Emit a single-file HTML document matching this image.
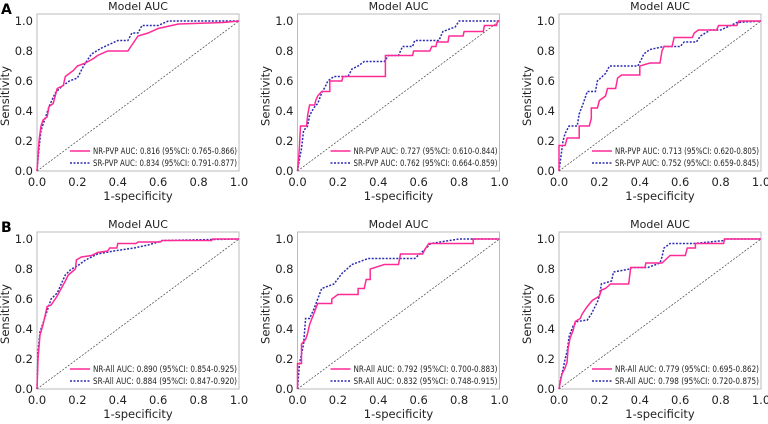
<!DOCTYPE html>
<html><head><meta charset="utf-8"><style>
html,body{margin:0;padding:0;background:#fff;}
svg{display:block;font-family:"DejaVu Sans","Liberation Sans",sans-serif;}
</style></head><body>
<svg id="chart" width="768" height="424" viewBox="0 0 768 424"></svg>
<script>
const titles=["Model AUC","Model AUC","Model AUC","Model AUC","Model AUC","Model AUC"];
const nrLabels=["NR-PVP AUC: 0.816 (95%CI: 0.765-0.866)","NR-PVP AUC: 0.727 (95%CI: 0.610-0.844)","NR-PVP AUC: 0.713 (95%CI: 0.620-0.805)","NR-All AUC: 0.890 (95%CI: 0.854-0.925)","NR-All AUC: 0.792 (95%CI: 0.700-0.883)","NR-All AUC: 0.779 (95%CI: 0.695-0.862)"];
const srLabels=["SR-PVP AUC: 0.834 (95%CI: 0.791-0.877)","SR-PVP AUC: 0.762 (95%CI: 0.664-0.859)","SR-PVP AUC: 0.752 (95%CI: 0.659-0.845)","SR-All AUC: 0.884 (95%CI: 0.847-0.920)","SR-All AUC: 0.832 (95%CI: 0.748-0.915)","SR-All AUC: 0.798 (95%CI: 0.720-0.875)"];
const tickLabels=["0.0","0.2","0.4","0.6","0.8","1.0"];
const tickValues=[0,0.2,0.4,0.6,0.8,1.0];
const nrCurves=[
[[0,0],[0.01,0.2],[0.02,0.3],[0.03,0.34],[0.05,0.36],[0.06,0.43],[0.08,0.45],[0.09,0.5],[0.1,0.55],[0.13,0.57],[0.14,0.63],[0.16,0.65],[0.18,0.67],[0.2,0.7],[0.24,0.72],[0.28,0.75],[0.3,0.77],[0.35,0.8],[0.45,0.8],[0.47,0.84],[0.5,0.9],[0.55,0.92],[0.6,0.95],[0.7,0.98],[0.92,0.99],[1,1]],
[[0,0],[0.005,0.07],[0.01,0.17],[0.015,0.3],[0.045,0.3],[0.05,0.37],[0.06,0.44],[0.085,0.44],[0.09,0.47],[0.1,0.5],[0.12,0.53],[0.16,0.53],[0.16,0.6],[0.22,0.6],[0.225,0.63],[0.435,0.63],[0.435,0.77],[0.57,0.77],[0.575,0.8],[0.655,0.8],[0.665,0.83],[0.685,0.83],[0.69,0.86],[0.745,0.86],[0.75,0.9],[0.82,0.9],[0.825,0.93],[0.92,0.93],[0.925,0.97],[0.985,0.97],[0.99,1],[1,1]],
[[0,0],[0,0.17],[0.03,0.17],[0.04,0.22],[0.1,0.22],[0.1,0.3],[0.15,0.3],[0.16,0.35],[0.16,0.42],[0.19,0.42],[0.2,0.47],[0.23,0.5],[0.24,0.55],[0.28,0.55],[0.29,0.62],[0.31,0.64],[0.4,0.64],[0.4,0.7],[0.45,0.72],[0.5,0.72],[0.51,0.8],[0.52,0.83],[0.56,0.83],[0.57,0.89],[0.66,0.89],[0.67,0.92],[0.69,0.94],[0.78,0.94],[0.79,0.97],[0.88,0.97],[0.89,1],[1,1]],
[[0,0],[0.005,0.2],[0.015,0.36],[0.03,0.43],[0.05,0.55],[0.07,0.56],[0.1,0.62],[0.12,0.67],[0.14,0.72],[0.155,0.76],[0.19,0.8],[0.195,0.86],[0.22,0.88],[0.27,0.89],[0.3,0.91],[0.35,0.92],[0.36,0.94],[0.395,0.94],[0.4,0.97],[0.49,0.97],[0.5,0.98],[0.61,0.98],[0.62,0.99],[0.865,0.99],[0.87,1],[1,1]],
[[0,0],[0,0.17],[0.02,0.17],[0.02,0.3],[0.04,0.33],[0.05,0.37],[0.06,0.43],[0.08,0.5],[0.1,0.57],[0.17,0.57],[0.17,0.6],[0.2,0.63],[0.3,0.63],[0.3,0.67],[0.33,0.67],[0.34,0.73],[0.36,0.73],[0.36,0.8],[0.43,0.83],[0.5,0.83],[0.51,0.9],[0.62,0.9],[0.63,0.93],[0.65,0.97],[0.87,0.97],[0.87,1],[1,1]],
[[0,0],[0.007,0.05],[0.015,0.1],[0.03,0.14],[0.04,0.18],[0.045,0.27],[0.055,0.34],[0.07,0.39],[0.08,0.45],[0.105,0.47],[0.115,0.5],[0.14,0.55],[0.165,0.59],[0.2,0.62],[0.21,0.66],[0.23,0.67],[0.255,0.7],[0.345,0.7],[0.355,0.81],[0.425,0.81],[0.43,0.84],[0.51,0.84],[0.55,0.89],[0.625,0.89],[0.635,0.94],[0.675,0.94],[0.675,0.97],[0.815,0.97],[0.82,1],[1,1]]
];
const srCurves=[
[[0,0],[0.01,0.15],[0.02,0.27],[0.04,0.35],[0.06,0.43],[0.09,0.52],[0.12,0.56],[0.16,0.6],[0.2,0.62],[0.23,0.7],[0.27,0.78],[0.32,0.82],[0.4,0.87],[0.45,0.87],[0.47,0.92],[0.5,0.92],[0.52,0.97],[0.6,0.97],[0.65,1],[1,1]],
[[0,0],[0.01,0.08],[0.02,0.15],[0.03,0.27],[0.05,0.3],[0.06,0.37],[0.08,0.42],[0.1,0.45],[0.12,0.52],[0.14,0.57],[0.15,0.6],[0.18,0.63],[0.25,0.63],[0.27,0.68],[0.3,0.7],[0.33,0.73],[0.43,0.73],[0.45,0.77],[0.5,0.77],[0.52,0.83],[0.57,0.83],[0.58,0.87],[0.7,0.87],[0.72,0.93],[0.78,0.96],[0.8,1],[1,1]],
[[0,0],[0.01,0.1],[0.02,0.2],[0.03,0.25],[0.05,0.3],[0.09,0.3],[0.1,0.38],[0.12,0.45],[0.14,0.53],[0.18,0.53],[0.19,0.6],[0.23,0.65],[0.25,0.7],[0.39,0.7],[0.41,0.75],[0.42,0.78],[0.45,0.81],[0.52,0.83],[0.6,0.83],[0.62,0.86],[0.68,0.86],[0.7,0.9],[0.75,0.94],[0.8,0.94],[0.85,0.97],[0.88,0.99],[1,1]],
[[0,0],[0.005,0.25],[0.015,0.38],[0.03,0.44],[0.05,0.52],[0.07,0.6],[0.1,0.64],[0.12,0.7],[0.14,0.76],[0.17,0.8],[0.2,0.82],[0.24,0.86],[0.3,0.9],[0.38,0.92],[0.48,0.94],[0.55,0.96],[0.6,0.98],[0.62,0.99],[1,1]],
[[0,0],[0.01,0.17],[0.03,0.3],[0.04,0.47],[0.06,0.47],[0.08,0.53],[0.1,0.6],[0.12,0.67],[0.18,0.7],[0.22,0.77],[0.27,0.83],[0.35,0.87],[0.58,0.87],[0.63,0.93],[0.66,0.97],[0.8,1],[1,1]],
[[0,0],[0.01,0.08],[0.02,0.13],[0.03,0.2],[0.04,0.25],[0.05,0.35],[0.07,0.42],[0.09,0.45],[0.14,0.46],[0.16,0.5],[0.19,0.58],[0.2,0.62],[0.21,0.7],[0.26,0.72],[0.27,0.78],[0.35,0.8],[0.36,0.81],[0.44,0.81],[0.5,0.84],[0.51,0.88],[0.52,0.94],[0.55,0.97],[0.67,0.97],[0.82,0.99],[0.82,1],[1,1]]
];
const NS="http://www.w3.org/2000/svg";
const svg=document.getElementById('chart');
function mk(tag,attrs,parent){const e=document.createElementNS(NS,tag);for(const k in attrs)e.setAttribute(k,attrs[k]);(parent||svg).appendChild(e);return e;}
const colX=[37,297.5,559], rowY=[171,389], W=202, H=150;
["A","B"].forEach((L,i)=>{const t=mk('text',{x:1,y:rowY[i]-157,'font-size':14,'font-weight':'bold',fill:'#000'});t.textContent=L;

});
for(let p=0;p<6;p++){
  const x0=colX[p%3], y0=rowY[Math.floor(p/3)];
  const sx=v=>x0+v*W, sy=v=>y0-v*H;
  const g=mk('g',{});
  
  
  const box=mk('rect',{x:x0,y:y0-157,width:W,height:157,fill:'none',stroke:'#bbb','stroke-width':1},g);
  
  
  const tt=mk('text',{x:x0+W/2,y:y0-161,'text-anchor':'middle','font-size':11,fill:'#222'},g);tt.textContent=titles[p];
  
  
  tickValues.forEach((v,i)=>{
    const a=mk('text',{x:x0-4,y:sy(v)+4,'text-anchor':'end','font-size':11.5,fill:'#222'},g);a.textContent=tickLabels[i];
    
    
    const b=mk('text',{x:sx(v),y:y0+15,'text-anchor':'middle','font-size':11.5,fill:'#222'},g);b.textContent=tickLabels[i];
    
    
  });
  const yl=mk('text',{x:0,y:0,transform:`translate(${x0-28},${y0-H/2}) rotate(-90)`,'text-anchor':'middle','font-size':11.5,fill:'#222'},g);yl.textContent="Sensitivity";
  
  
  const xl=mk('text',{x:x0+W/2,y:y0+29,'text-anchor':'middle','font-size':11.5,fill:'#222'},g);xl.textContent="1-specificity";
  
  
  const d=mk('line',{x1:sx(0),y1:sy(0),x2:sx(1),y2:sy(1),stroke:'#444','stroke-width':0.7,'stroke-dasharray':'2,1.5'},g);
  
  
  const pts=c=>c.map(q=>sx(q[0]).toFixed(1)+','+sy(q[1]).toFixed(1)).join(' ');
  const sr=mk('polyline',{points:pts(srCurves[p]),fill:'none',stroke:'#2b2bb0','stroke-width':1.5,'stroke-dasharray':'2,1.5'},g);
  
  
  const nr=mk('polyline',{points:pts(nrCurves[p]),fill:'none',stroke:'#ff2a95','stroke-width':1.5},g);
  
  
  const lx=x0+33;
  const l1=mk('line',{x1:lx,y1:y0-20,x2:lx+20,y2:y0-20,stroke:'#ff2a95','stroke-width':1.5},g);
  
  
  const l2=mk('line',{x1:lx,y1:y0-8,x2:lx+20,y2:y0-8,stroke:'#2b2bb0','stroke-width':1.5,'stroke-dasharray':'2,1.5'},g);
  
  
  const t1=mk('text',{x:lx+23,y:y0-17,'font-size':8.5,fill:'#222',textLength:144,lengthAdjust:'spacingAndGlyphs'},g);t1.textContent=nrLabels[p];
  
  
  const t2=mk('text',{x:lx+23,y:y0-5,'font-size':8.5,fill:'#222',textLength:144,lengthAdjust:'spacingAndGlyphs'},g);t2.textContent=srLabels[p];
  
  
}
</script>
</body></html>
